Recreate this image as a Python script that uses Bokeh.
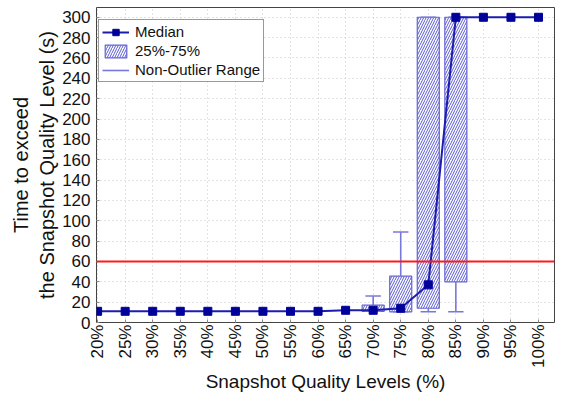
import math
from bokeh.plotting import figure
from bokeh.models import (ColumnDataSource, FixedTicker, Span, Legend, LegendItem)
from bokeh.transform import dodge
from bokeh.embed import file_html
from bokeh.resources import INLINE

# ---- data ----
levels = ["20%", "25%", "30%", "35%", "40%", "45%", "50%", "55%", "60%",
          "65%", "70%", "75%", "80%", "85%", "90%", "95%", "100%"]
median = [11, 11, 11, 11, 11, 11, 11, 11, 11, 12, 12, 14, 37, 300, 300, 300, 300]

box_levels = ["70%", "75%", "80%", "85%"]
q1 = [11, 10.5, 14, 40]
q3 = [17, 45.5, 300, 300]
whisker_low = [11, 10.5, 10.5, 10.5]
whisker_high = [26, 89, 300, 300]

y_ticks = list(range(0, 301, 20))
threshold = 60

FONT = "Liberation Sans"

x_med = list(range(len(levels)))
x_box = [levels.index(l) for l in box_levels]

med_src = ColumnDataSource(dict(x=x_med, y=median))
box_src = ColumnDataSource(dict(x=x_box, q1=q1, q3=q3, lo=whisker_low, hi=whisker_high))

p = figure(width=555, height=394, output_backend="svg", toolbar_location=None,
           x_range=(-0.04, 16.58), y_range=(0, 309.6),
           min_border_left=96, min_border_right=1, min_border_top=7, min_border_bottom=68)

p.background_fill_color = "white"
p.border_fill_color = "white"
p.outline_line_color = "#444444"
p.outline_line_width = 1

# grid
p.xgrid.grid_line_color = "#c8c8c8"
p.xgrid.grid_line_dash = "1 3"
p.ygrid.grid_line_color = "#c8c8c8"
p.ygrid.grid_line_dash = "1 3"

# boxes
box_r = p.vbar(x="x", bottom="q1", top="q3", width=0.8, source=box_src,
               fill_color="white", fill_alpha=1.0,
               line_color="#6464d2", line_width=1.2,
               hatch_pattern="/", hatch_color="#5a5ad0", hatch_scale=5, hatch_weight=1)

# whiskers
WCOL = "#7878d8"
stem_hi = p.segment(x0="x", y0="q3", x1="x", y1="hi", source=box_src,
                    line_color=WCOL, line_width=1.6)
stem_lo = p.segment(x0="x", y0="lo", x1="x", y1="q1", source=box_src,
                    line_color=WCOL, line_width=1.6)
cap_hi = p.segment(x0=dodge("x", -0.28), y0="hi", x1=dodge("x", 0.28), y1="hi",
                   source=box_src, line_color=WCOL, line_width=1.6)
cap_lo = p.segment(x0=dodge("x", -0.28), y0="lo", x1=dodge("x", 0.28), y1="lo",
                   source=box_src, line_color=WCOL, line_width=1.6)

# threshold
p.add_layout(Span(location=threshold, dimension="width", line_color="#ff1a1a", line_width=2))

# median
med_line = p.line(x="x", y="y", source=med_src, line_color="#1c1cae", line_width=2)
med_pts = p.scatter(x="x", y="y", source=med_src, marker="square", size=8,
                    fill_color="#00009a", line_color="#00009a")

# axes
p.xaxis.ticker = FixedTicker(ticks=x_med)
p.xaxis.major_label_overrides = {i: l for i, l in enumerate(levels)}
p.xaxis.major_label_orientation = math.pi / 2
p.yaxis.ticker = FixedTicker(ticks=y_ticks)

for ax in (p.xaxis[0], p.yaxis[0]):
    ax.major_label_text_font = FONT
    ax.major_label_text_font_size = "17px"
    ax.major_label_text_color = "#111111"
    ax.axis_label_text_font = FONT
    ax.axis_label_text_font_style = "normal"
    ax.axis_label_text_color = "#111111"
    ax.axis_line_color = None
    ax.major_tick_line_color = "#888888"
    ax.major_tick_in = 3
    ax.major_tick_out = 0
    ax.minor_tick_line_color = None

p.xaxis.major_label_standoff = 2
p.yaxis.major_label_standoff = 6
p.xaxis.axis_label = "Snapshot Quality Levels (%)"
p.xaxis.axis_label_text_font_size = "19px"
p.xaxis.axis_label_standoff = 0
p.yaxis.axis_label = "Time to exceed\nthe Snapshot Quality Level (s)"
p.yaxis.axis_label_text_font_size = "20px"
p.yaxis.axis_label_standoff = 1

legend = Legend(items=[
    LegendItem(label="Median", renderers=[med_line, med_pts]),
    LegendItem(label="25%-75%", renderers=[box_r]),
    LegendItem(label="Non-Outlier Range", renderers=[stem_hi]),
], location=(2, 240))
legend.label_text_font = FONT
legend.label_text_font_size = "15px"
legend.label_text_color = "#111111"
legend.glyph_width = 27
legend.glyph_height = 16
legend.label_height = 16
legend.spacing = 2
legend.padding = 3
legend.margin = 0
legend.label_standoff = 6
legend.border_line_color = "#333333"
legend.border_line_width = 1
legend.background_fill_alpha = 1
p.add_layout(legend, "center")

open("out.html", "w").write(file_html(p, INLINE))
